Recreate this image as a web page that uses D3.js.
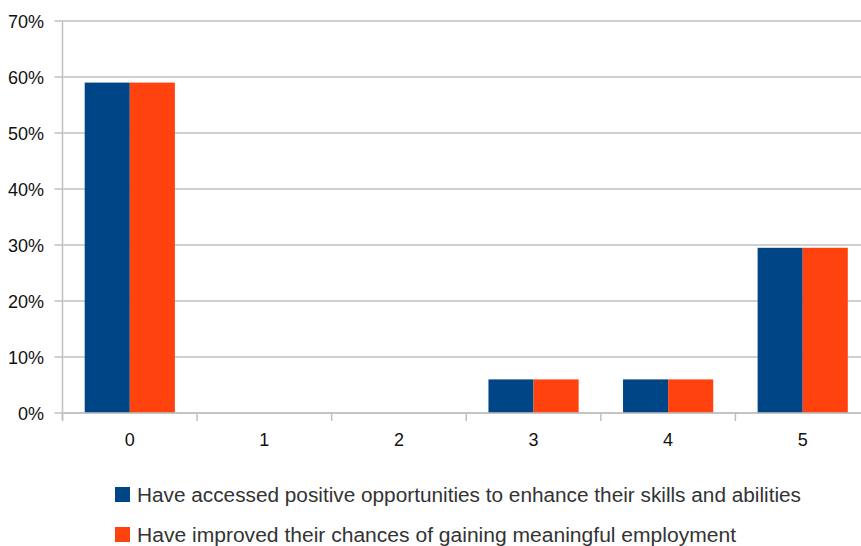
<!DOCTYPE html>
<html><head><meta charset="utf-8">
<script src="https://cdn.jsdelivr.net/npm/d3@7"></script>
<style>body{margin:0;background:#fff;}svg{display:block;font-family:"Liberation Sans",Arial,sans-serif;}</style>
</head><body>
<svg id="c" width="861" height="546"></svg>
<script>
const categories = ["0","1","2","3","4","5"];
const seriesNames = ["Have accessed positive opportunities to enhance their skills and abilities","Have improved their chances of gaining meaningful employment"];
const seriesA = [0.59, 0, 0, 0.06, 0.06, 0.295];
const seriesB = [0.59, 0, 0, 0.06, 0.06, 0.295];
const colors = ["#004586","#ff420e"];
const yTicks = [0,0.1,0.2,0.3,0.4,0.5,0.6,0.7];

const svg = d3.select("#c");
const mLeft = 62.5, mRight = 870, mTop = 21, mBottom = 413;
const x = d3.scaleBand().domain(categories).range([mLeft, mRight]).paddingInner(0.33).paddingOuter(0.165);
const y = d3.scaleLinear().domain([0,0.7]).range([mBottom, mTop]);
const xs = d3.scaleBand().domain([0,1]).range([0, x.bandwidth()]);

// grid
svg.append("g").selectAll("line").data(yTicks).join("line")
  .attr("x1", mLeft-8).attr("x2", 861).attr("y1", d=>y(d)).attr("y2", d=>y(d))
  .attr("stroke", "#c0c0c0").attr("stroke-width", 1.5);
// y labels
svg.append("g").selectAll("text").data(yTicks).join("text")
  .attr("x", 44).attr("y", d=>y(d)+6.5).attr("text-anchor","end")
  .attr("font-size", 18).attr("fill", "#111").text(d=>d3.format(".0%")(d));
// left axis
svg.append("line").attr("x1", mLeft).attr("x2", mLeft).attr("y1", mTop).attr("y2", mBottom+8)
  .attr("stroke", "#c0c0c0").attr("stroke-width", 1.5);
// x ticks at band boundaries
const step = x.step();
const bounds = d3.range(categories.length+1).map(i => mLeft + i*step);
svg.append("g").selectAll("line").data(bounds).join("line")
  .attr("x1", d=>d).attr("x2", d=>d).attr("y1", mBottom).attr("y2", mBottom+8)
  .attr("stroke", "#c0c0c0").attr("stroke-width", 1.5);

// bars
const data = [seriesA, seriesB];
const g = svg.append("g");
categories.forEach((c,i) => {
  data.forEach((s,j) => {
    if (s[i] > 0) g.append("rect")
      .attr("x", x(c)+xs(j)).attr("width", xs.bandwidth())
      .attr("y", y(s[i])).attr("height", y(0)-y(s[i]))
      .attr("fill", colors[j]);
  });
});
// redraw baseline over bars
svg.append("line").attr("x1", mLeft).attr("x2", 861).attr("y1", mBottom).attr("y2", mBottom)
  .attr("stroke", "#c0c0c0").attr("stroke-width", 1.5);

// x labels
svg.append("g").selectAll("text").data(categories).join("text")
  .attr("x", d=>x(d)+x.bandwidth()/2).attr("y", 446).attr("text-anchor","middle")
  .attr("font-size", 18).attr("fill", "#111").text(d=>d);

// legend
const lg = svg.append("g");
seriesNames.forEach((n,j) => {
  const yy = 487 + j*40;
  lg.append("rect").attr("x", 115).attr("y", yy).attr("width", 15).attr("height", 15).attr("fill", colors[j]);
  lg.append("text").attr("x", 137).attr("y", yy+15).attr("font-size", 20).attr("fill", "#333")
    .attr("textLength", j===0 ? 664 : 599).attr("lengthAdjust","spacingAndGlyphs").text(n);
});
</script>
</body></html>
